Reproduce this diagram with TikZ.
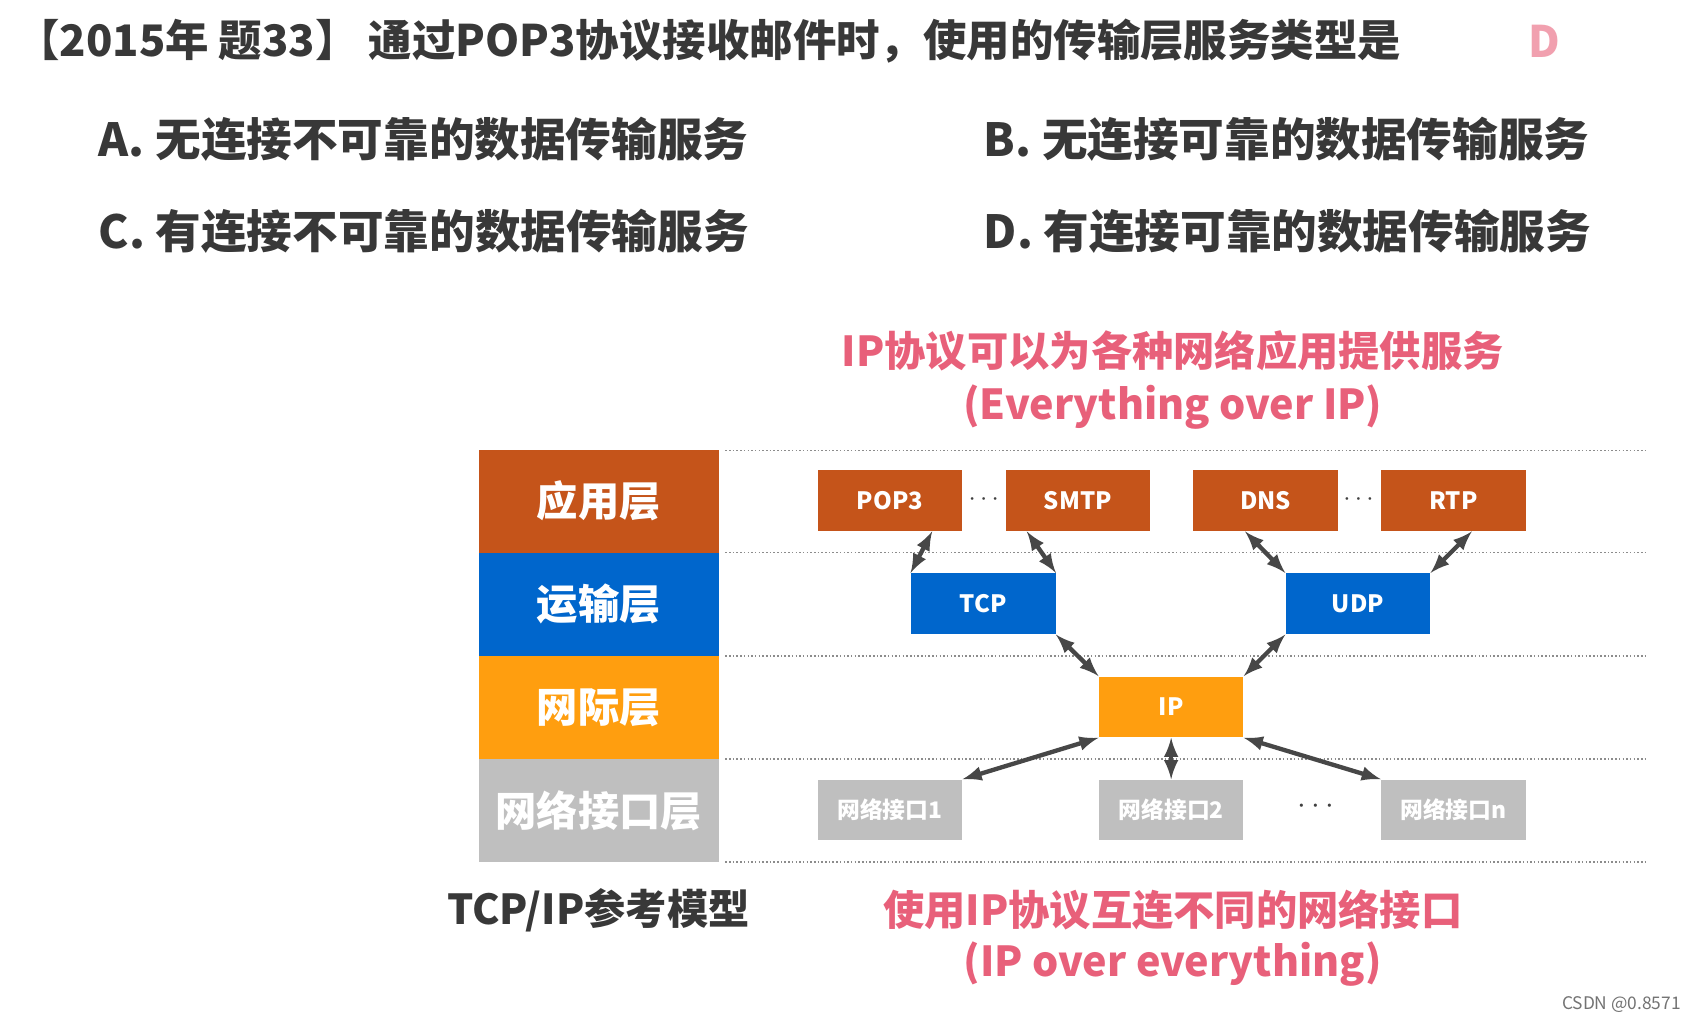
\documentclass[tikz,border=0pt]{standalone}
\usepackage{fontspec}
\setmainfont{Noto Sans CJK SC}
\begin{document}
\begin{tikzpicture}[x=0.5pt,y=-0.5pt,
  box/.style={minimum width=66.5pt,minimum height=28pt,inner sep=0pt,text=white,font=\bfseries\fontsize{11}{13}\selectfont},
  layer/.style={minimum width=110.5pt,minimum height=47.5pt,inner sep=0pt,text=white,font=\bfseries\fontsize{19}{21}\selectfont},
  arr/.style={<->,>=latex,line width=2pt,draw=black!72},
  dots/.style={densely dotted,black!45,line width=0.7pt},
  pink/.style={text=pinkc,font=\bfseries\fontsize{19}{21}\selectfont},
  opt/.style={anchor=west,text=black!78,font=\bfseries\fontsize{21}{24}\selectfont}]
\definecolor{appc}{HTML}{C5541A}\definecolor{trc}{HTML}{0066CC}
\definecolor{ipc}{HTML}{FF9E0F}\definecolor{nic}{HTML}{BFBFBF}
\definecolor{pinkc}{HTML}{E8607A}
\useasboundingbox (0,0) rectangle (1560,936);
\fill[white] (0,0) rectangle (1560,936);
\node[anchor=west,text=black!78,font=\bfseries\fontsize{20}{24}\selectfont] (title) at (8,38) {【2015年 题33】 通过POP3协议接收邮件时，使用的传输层服务类型是};
\node[text=pinkc!60,font=\bfseries\fontsize{20}{24}\selectfont] (ans) at (1422,38) {D};
\node[opt] (oa) at (84,128) {A. 无连接不可靠的数据传输服务};
\node[opt] (ob) at (899,128) {B. 无连接可靠的数据传输服务};
\node[opt] (oc) at (84,213) {C. 有连接不可靠的数据传输服务};
\node[opt] (od) at (899,213) {D. 有连接可靠的数据传输服务};
\node[pink] (p1) at (1080,323) {IP协议可以为各种网络应用提供服务};
\node[pink] (p2) at (1080,375) {(Everything over IP)};
\node[pink] (p3) at (1080,838) {使用IP协议互连不同的网络接口};
\node[pink] (p4) at (1080,888) {(IP over everything)};
\node[text=black!78,font=\bfseries\fontsize{19}{21}\selectfont] (model) at (551,838) {TCP/IP参考模型};
\node[layer,fill=appc] (l1) at (551.5,461.5) {应用层};
\node[layer,fill=trc] (l2) at (551.5,556.5) {运输层};
\node[layer,fill=ipc] (l3) at (551.5,651.5) {网际层};
\node[layer,fill=nic] (l4) at (551.5,746.5) {网络接口层};
\foreach \y in {415,509,604,699,794} \draw[dots] (668,\y) -- (1515,\y);
\node[box,fill=appc] (pop) at (819.5,461) {POP3};
\node[box,fill=appc] (smtp) at (992.5,461) {SMTP};
\node[box,fill=appc] (dns) at (1165.5,461) {DNS};
\node[box,fill=appc] (rtp) at (1338.5,461) {RTP};
\node[box,fill=trc] (tcp) at (905.5,556) {TCP};
\node[box,fill=trc] (udp) at (1250.5,556) {UDP};
\node[box,fill=ipc] (ip) at (1078.5,651) {IP};
\node[box,fill=nic,font=\bfseries\fontsize{10.5}{13}\selectfont] (n1) at (819.5,746) {网络接口1};
\node[box,fill=nic,font=\bfseries\fontsize{10.5}{13}\selectfont] (n2) at (1078.5,746) {网络接口2};
\node[box,fill=nic,font=\bfseries\fontsize{10.5}{13}\selectfont] (nn) at (1338.5,746) {网络接口n};
\node[text=black!75,font=\bfseries\fontsize{12}{14}\selectfont] (d1) at (906,460) {$\cdots$};
\node[text=black!75,font=\bfseries\fontsize{12}{14}\selectfont] (d2) at (1251,460) {$\cdots$};
\node[text=black!75,font=\bfseries\fontsize{14}{14}\selectfont] (d3) at (1212,743) {$\cdots$};
\draw[arr] ([xshift=-14pt]pop.south east) -- (tcp.north west);
\draw[arr] ([xshift=10pt]smtp.south west) -- (tcp.north east);
\draw[arr] ([xshift=24pt]dns.south west) -- (udp.north west);
\draw[arr] ([xshift=-25pt]rtp.south east) -- (udp.north east);
\draw[arr] (tcp.south east) -- (ip.north west);
\draw[arr] (udp.south west) -- (ip.north east);
\draw[arr] (ip.south west) -- (n1.north east);
\draw[arr] (ip.south) -- (n2.north);
\draw[arr] (ip.south east) -- (nn.north west);
\node[anchor=east,text=black!55,font=\fontsize{8}{10}\selectfont] (csdn) at (1555,925) {CSDN @0.8571};
\end{tikzpicture}
\end{document}
